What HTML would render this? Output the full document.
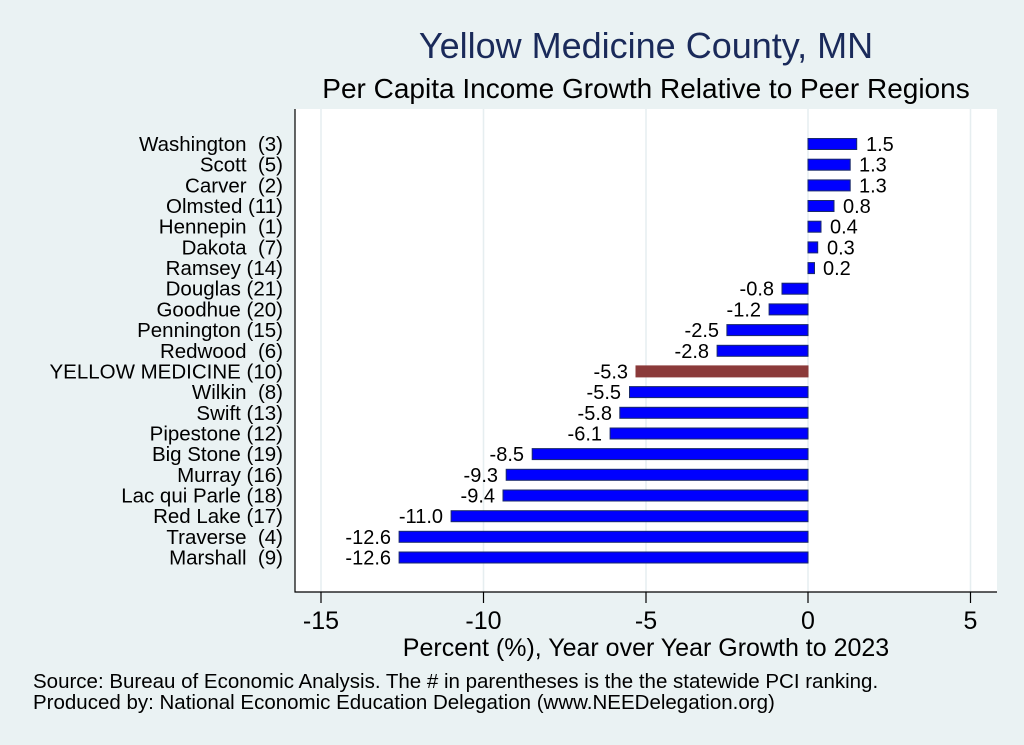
<!DOCTYPE html>
<html><head><meta charset="utf-8"><style>
html,body{margin:0;padding:0;background:#eaf2f3;}
svg{display:block;font-family:"Liberation Sans",Arial,sans-serif;}
</style></head><body>
<svg width="1024" height="745" viewBox="0 0 1024 745" xmlns="http://www.w3.org/2000/svg">
<rect x="0" y="0" width="1024" height="745" fill="#eaf2f3"/>
<text x="646" y="58" font-size="36" fill="#1a2a5a" text-anchor="middle">Yellow Medicine County, MN</text>
<text x="646" y="98" font-size="28" fill="#000" text-anchor="middle">Per Capita Income Growth Relative to Peer Regions</text>
<rect x="295" y="109" width="702" height="483" fill="#fff"/>
<g stroke="#e6eef0" stroke-width="1.5">
<line x1="321" y1="109" x2="321" y2="592"/>
<line x1="483.5" y1="109" x2="483.5" y2="592"/>
<line x1="646" y1="109" x2="646" y2="592"/>
<line x1="808" y1="109" x2="808" y2="592"/>
<line x1="970.5" y1="109" x2="970.5" y2="592"/>
</g>
<line x1="295" y1="109" x2="295" y2="592.5" stroke="#000" stroke-width="1.2"/>
<line x1="294.5" y1="592" x2="997" y2="592" stroke="#000" stroke-width="1.2"/>
<g stroke="#000" stroke-width="1.2">
<line x1="321" y1="592" x2="321" y2="603"/><line x1="483.5" y1="592" x2="483.5" y2="603"/>
<line x1="646" y1="592" x2="646" y2="603"/><line x1="808" y1="592" x2="808" y2="603"/>
<line x1="970.5" y1="592" x2="970.5" y2="603"/>
</g>
<g font-size="25" text-anchor="middle" fill="#000">
<text x="321" y="629">-15</text><text x="483.5" y="629">-10</text><text x="646" y="629">-5</text><text x="808" y="629">0</text><text x="970.5" y="629">5</text>
</g>
<text x="646" y="656" font-size="25" text-anchor="middle">Percent (%), Year over Year Growth to 2023</text>
<text x="33" y="688" font-size="20.5">Source: Bureau of Economic Analysis. The # in parentheses is the the statewide PCI ranking.</text>
<text x="33" y="709" font-size="20.5">Produced by: National Economic Education Delegation (www.NEEDelegation.org)</text>

<g fill="#0000ff" stroke="#1a2a6a" stroke-width="1">
<rect x="808" y="138.5" width="48.7" height="11"/>
<rect x="808" y="159.2" width="42.2" height="11"/>
<rect x="808" y="179.9" width="42.2" height="11"/>
<rect x="808" y="200.5" width="26" height="11"/>
<rect x="808" y="221.2" width="13" height="11"/>
<rect x="808" y="241.9" width="9.7" height="11"/>
<rect x="808" y="262.6" width="6.5" height="11"/>
<rect x="782" y="283.2" width="26" height="11"/>
<rect x="769.1" y="303.9" width="38.9" height="11"/>
<rect x="726.9" y="324.6" width="81.1" height="11"/>
<rect x="717.1" y="345.3" width="90.9" height="11"/>
<rect x="629.5" y="386.6" width="178.5" height="11"/>
<rect x="619.8" y="407.3" width="188.2" height="11"/>
<rect x="610.1" y="428" width="197.9" height="11"/>
<rect x="532.2" y="448.6" width="275.8" height="11"/>
<rect x="506.2" y="469.3" width="301.8" height="11"/>
<rect x="503" y="490" width="305" height="11"/>
<rect x="451.1" y="510.7" width="356.9" height="11"/>
<rect x="399.1" y="531.3" width="408.9" height="11"/>
<rect x="399.1" y="552" width="408.9" height="11"/>
</g>
<rect x="636" y="365.9" width="172" height="11" fill="#8b3a3a" stroke="#8b3a3a"/>

<g font-size="20" fill="#000">
<text x="866" y="151">1.5</text>
<text x="859" y="171.7">1.3</text>
<text x="859" y="192.4">1.3</text>
<text x="843" y="213">0.8</text>
<text x="830" y="233.7">0.4</text>
<text x="827" y="254.4">0.3</text>
<text x="823" y="275.1">0.2</text>
</g>
<g font-size="20" fill="#000" text-anchor="end">
<text x="774" y="295.7">-0.8</text>
<text x="761" y="316.4">-1.2</text>
<text x="719" y="337.1">-2.5</text>
<text x="709" y="357.8">-2.8</text>
<text x="628" y="378.4">-5.3</text>
<text x="621" y="399.1">-5.5</text>
<text x="612" y="419.8">-5.8</text>
<text x="602" y="440.5">-6.1</text>
<text x="524" y="461.1">-8.5</text>
<text x="498" y="481.8">-9.3</text>
<text x="495" y="502.5">-9.4</text>
<text x="443" y="523.2">-11.0</text>
<text x="391" y="543.8">-12.6</text>
<text x="391" y="564.5">-12.6</text>
</g>
<g font-size="20.5" fill="#000" text-anchor="end">
<text x="283" y="151">Washington&#160; (3)</text>
<text x="283" y="171.7">Scott&#160; (5)</text>
<text x="283" y="192.4">Carver&#160; (2)</text>
<text x="283" y="213">Olmsted (11)</text>
<text x="283" y="233.7">Hennepin&#160; (1)</text>
<text x="283" y="254.4">Dakota&#160; (7)</text>
<text x="283" y="275.1">Ramsey (14)</text>
<text x="283" y="295.7">Douglas (21)</text>
<text x="283" y="316.4">Goodhue (20)</text>
<text x="283" y="337.1">Pennington (15)</text>
<text x="283" y="357.8">Redwood&#160; (6)</text>
<text x="283" y="378.4">YELLOW MEDICINE (10)</text>
<text x="283" y="399.1">Wilkin&#160; (8)</text>
<text x="283" y="419.8">Swift (13)</text>
<text x="283" y="440.5">Pipestone (12)</text>
<text x="283" y="461.1">Big Stone (19)</text>
<text x="283" y="481.8">Murray (16)</text>
<text x="283" y="502.5">Lac qui Parle (18)</text>
<text x="283" y="523.2">Red Lake (17)</text>
<text x="283" y="543.8">Traverse&#160; (4)</text>
<text x="283" y="564.5">Marshall&#160; (9)</text>
</g>
</svg>
</body></html>
